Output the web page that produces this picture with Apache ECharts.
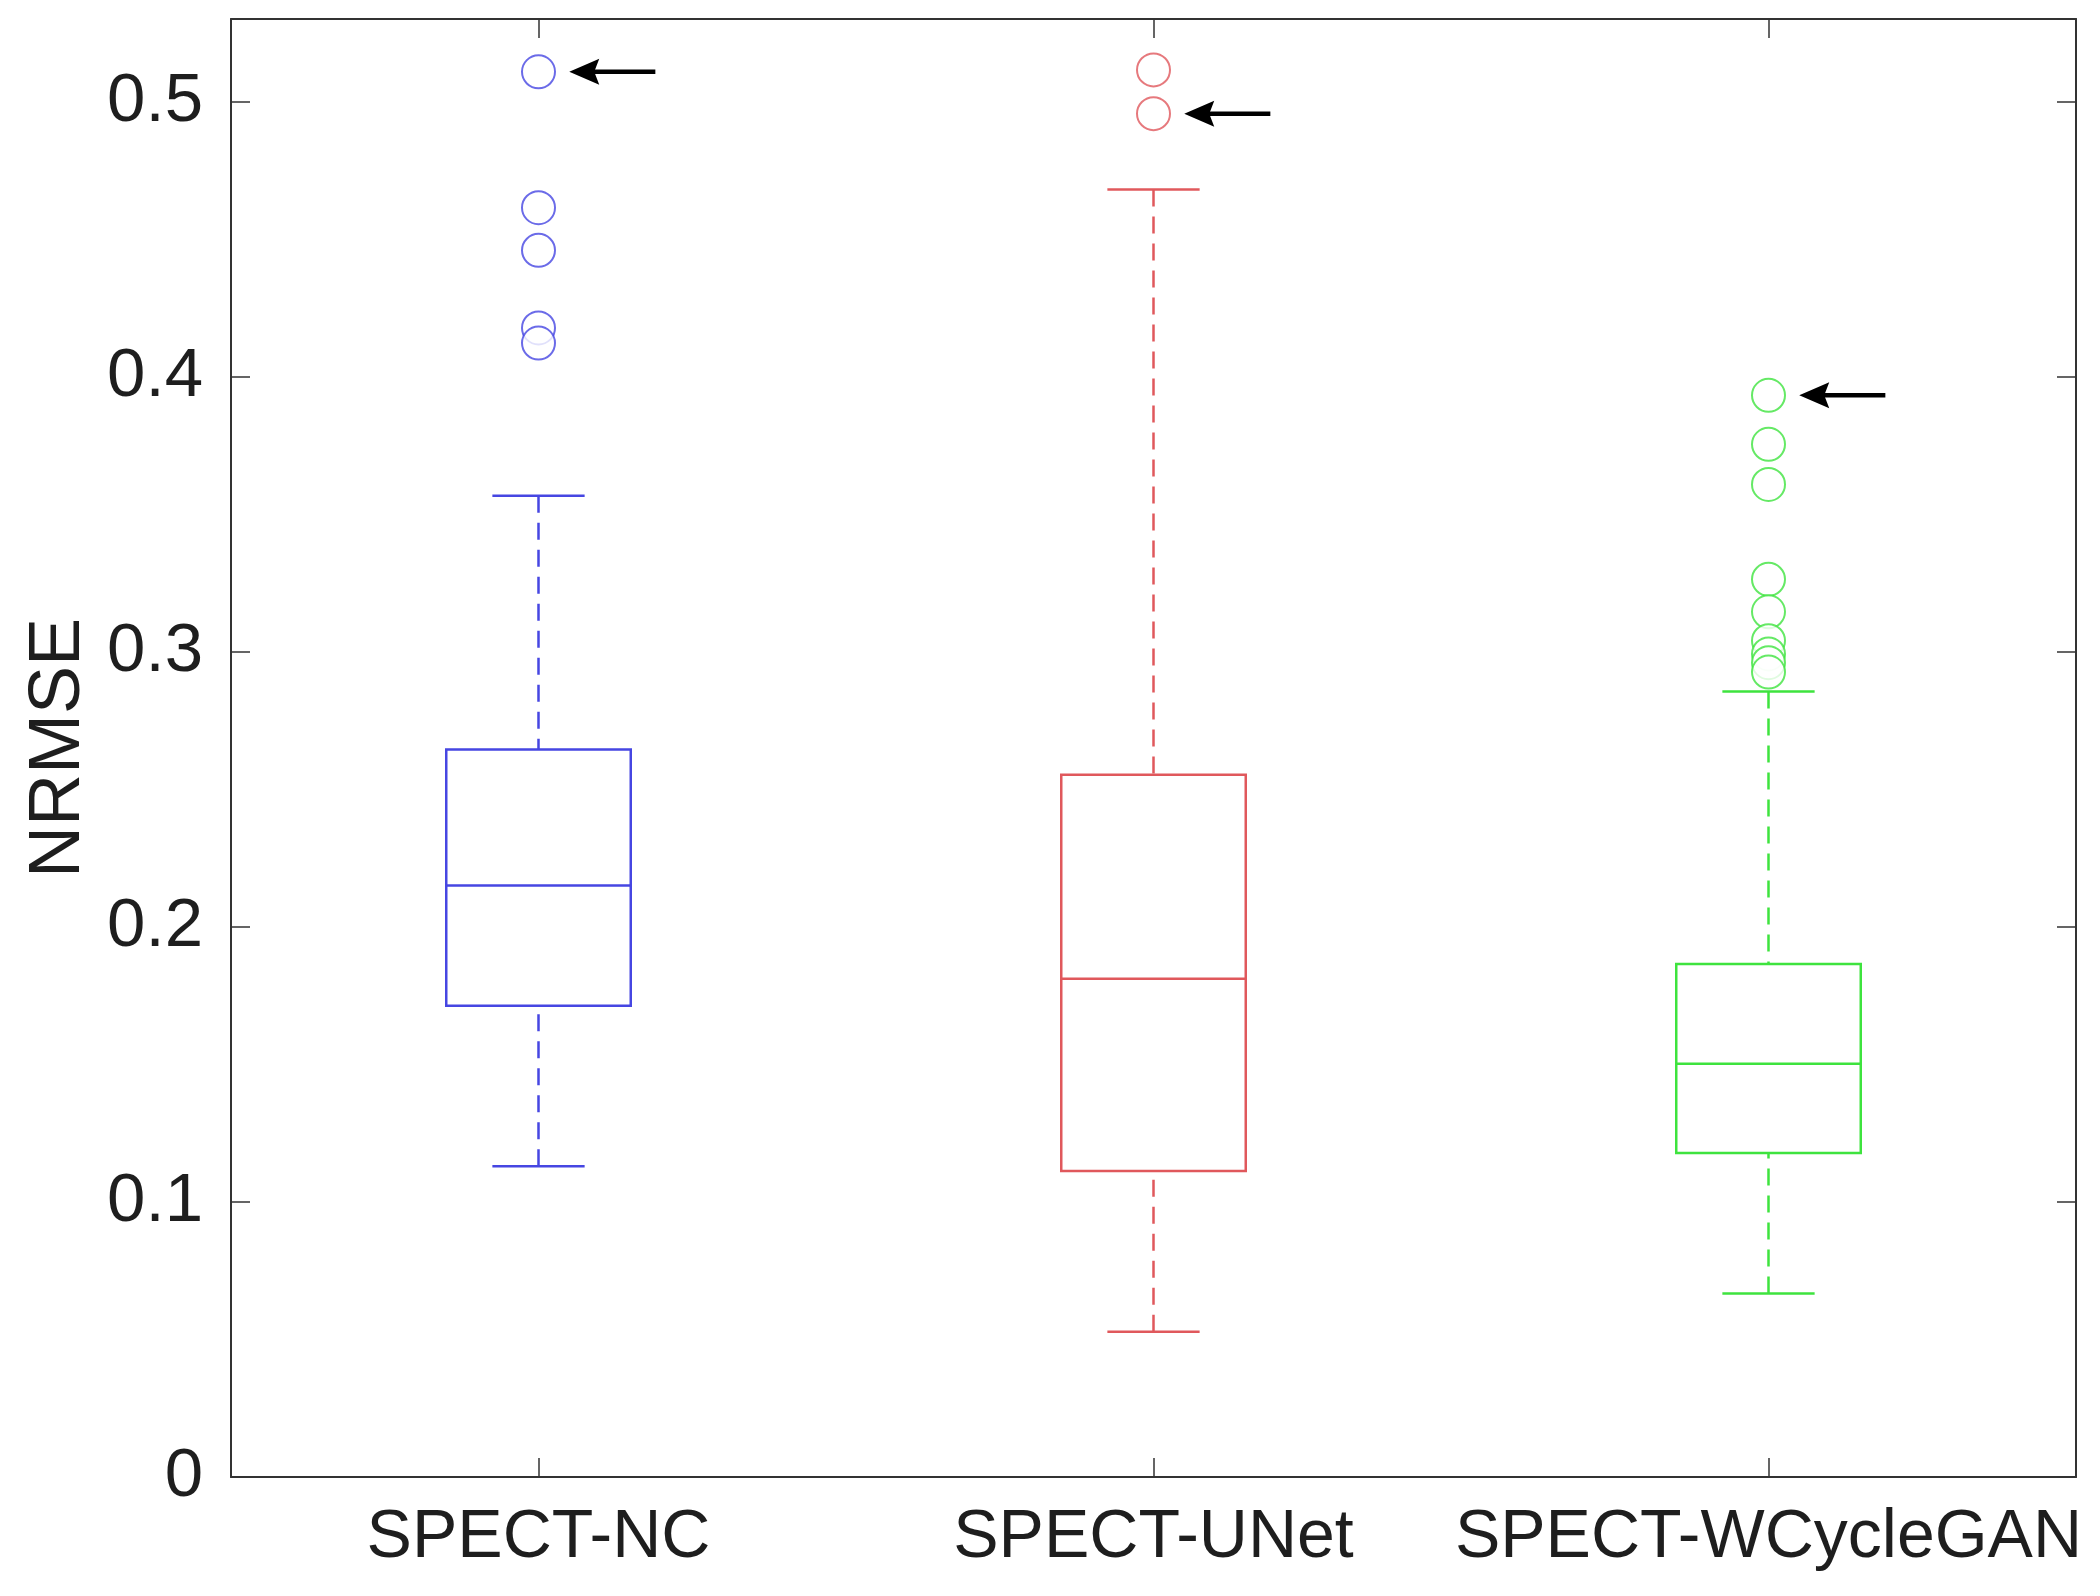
<!DOCTYPE html>
<html>
<head>
<meta charset="utf-8">
<script src="https://cdn.jsdelivr.net/npm/echarts@6/dist/echarts.min.js"></script>
<style>
html,body{margin:0;padding:0;background:#fff;}
#chart{width:2100px;height:1596px;}
</style>
</head>
<body>
<div id="chart"></div>
<script>
// ---- data ----
const categories = ['SPECT-NC', 'SPECT-UNet', 'SPECT-WCycleGAN'];
// [lower whisker, Q1, median, Q3, upper whisker]
const boxNC = [0.1130, 0.1713, 0.2150, 0.2645, 0.3567];
const boxUNet = [0.0528, 0.1112, 0.1811, 0.2553, 0.4680];
const boxWCycleGAN = [0.0667, 0.1178, 0.1502, 0.1865, 0.2855];
const outliersNC = [0.5108, 0.4614, 0.4459, 0.4177, 0.4122];
const outliersUNet = [0.5115, 0.4956];
const outliersWCycleGAN = [0.3932, 0.3754, 0.3608, 0.3263, 0.3145, 0.3040, 0.2992, 0.2960, 0.2926];
// outliers marked with arrows: [category index, value]
const arrowMarks = [[0, 0.5108], [1, 0.4956], [2, 0.3932]];
const yTicks = [0, 0.1, 0.2, 0.3, 0.4, 0.5];

const colors = ['#4646e2', '#e0585c', '#3ee33e'];
const boxes = [boxNC, boxUNet, boxWCycleGAN];
const outliers = [outliersNC, outliersUNet, outliersWCycleGAN];

const chart = echarts.init(document.getElementById('chart'), null, {renderer: 'canvas'});
const FONT = 'Liberation Sans, Arial, Helvetica, sans-serif';
const axisColor = '#333333';
const textColor = '#1e1e1e';

function boxRender(params, api) {
  const idx = api.value(0);
  const vals = [api.value(1), api.value(2), api.value(3), api.value(4), api.value(5)];
  const band = api.size([1, 0])[0];
  const halfBox = band * 0.15;
  const halfCap = band * 0.075;
  const p = vals.map(v => api.coord([idx, v]));
  const cx = p[0][0];
  const col = colors[idx];
  const solid = {stroke: col, lineWidth: 2.5, fill: null};
  const dashed = {stroke: col, lineWidth: 2.5, lineDash: [17, 10], fill: null};
  return {
    type: 'group',
    children: [
      {type: 'rect', shape: {x: cx - halfBox, y: p[3][1], width: 2 * halfBox, height: p[1][1] - p[3][1]}, style: solid},
      {type: 'line', shape: {x1: cx - halfBox, y1: p[2][1], x2: cx + halfBox, y2: p[2][1]}, style: solid},
      {type: 'line', shape: {x1: cx, y1: p[4][1], x2: cx, y2: p[3][1]}, style: dashed},
      {type: 'line', shape: {x1: cx, y1: p[0][1], x2: cx, y2: p[1][1]}, style: dashed},
      {type: 'line', shape: {x1: cx - halfCap, y1: p[4][1], x2: cx + halfCap, y2: p[4][1]}, style: solid},
      {type: 'line', shape: {x1: cx - halfCap, y1: p[0][1], x2: cx + halfCap, y2: p[0][1]}, style: solid}
    ]
  };
}

function arrowRender(params, api) {
  const idx = api.value(0);
  const v = api.value(1);
  const band = api.size([1, 0])[0];
  const c = api.coord([idx, v]);
  const headX = c[0] + band * 0.05;
  const tailX = c[0] + band * 0.19;
  const headLen = 30, headHalf = 13;
  return {
    type: 'group',
    children: [
      {type: 'line', shape: {x1: headX + headLen - 6, y1: c[1], x2: tailX, y2: c[1]}, style: {stroke: '#000', lineWidth: 4.5}},
      {type: 'polygon', shape: {points: [[headX, c[1]], [headX + headLen, c[1] - headHalf], [headX + headLen - 5, c[1]], [headX + headLen, c[1] + headHalf]]}, style: {fill: '#000'}}
    ]
  };
}

const series = [
  {
    type: 'custom',
    renderItem: boxRender,
    xAxisIndex: 0, yAxisIndex: 0,
    data: boxes.map((b, i) => [i].concat(b)),
    encode: {x: 0, y: [1, 2, 3, 4, 5]},
    z: 3
  }
];
outliers.forEach((arr, i) => {
  series.push({
    type: 'scatter',
    xAxisIndex: 0, yAxisIndex: 0,
    symbol: 'emptyCircle',
    symbolSize: 33,
    itemStyle: {color: colors[i], borderColor: colors[i], borderWidth: 2},
    data: arr.map(v => [categories[i], v]),
    z: 4
  });
});
series.push({
  type: 'custom',
  renderItem: arrowRender,
  xAxisIndex: 0, yAxisIndex: 0,
  data: arrowMarks,
  encode: {x: 0, y: 1},
  z: 5
});

const option = {
  backgroundColor: '#ffffff',
  animation: false,
  grid: {left: 231, right: 24, top: 19, bottom: 119, containLabel: false},
  xAxis: [
    {
      type: 'category', data: categories, position: 'bottom',
      boundaryGap: true,
      axisLine: {show: true, lineStyle: {color: axisColor, width: 2}},
      axisTick: {show: true, inside: true, alignWithLabel: true, length: 19, lineStyle: {color: axisColor, width: 1.5}},
      axisLabel: {show: true, margin: 27, color: textColor, fontSize: 68, fontFamily: FONT, interval: 0},
      splitLine: {show: false}
    },
    {
      type: 'category', data: categories, position: 'top',
      boundaryGap: true,
      axisLine: {show: true, onZero: false, lineStyle: {color: axisColor, width: 2}},
      axisTick: {show: true, inside: true, alignWithLabel: true, length: 19, lineStyle: {color: axisColor, width: 1.5}},
      axisLabel: {show: false},
      splitLine: {show: false}
    }
  ],
  yAxis: [
    {
      type: 'value', min: 0, max: 0.53, interval: 0.1, position: 'left',
      name: 'NRMSE', nameLocation: 'middle', nameRotate: 90, nameGap: 136,
      nameTextStyle: {fontSize: 72, color: textColor, fontFamily: FONT},
      axisLine: {show: true, lineStyle: {color: axisColor, width: 2}},
      axisTick: {show: true, inside: true, length: 19, lineStyle: {color: axisColor, width: 1.5}},
      axisLabel: {show: true, margin: 28, color: textColor, fontSize: 69, fontFamily: FONT, showMaxLabel: false,
        formatter: v => (yTicks.some(t => Math.abs(t - v) < 1e-9) ? String(+v.toFixed(1)) : '')},
      splitLine: {show: false}
    },
    {
      type: 'value', min: 0, max: 0.53, interval: 0.1, position: 'right',
      axisLine: {show: true, onZero: false, lineStyle: {color: axisColor, width: 2}},
      axisTick: {show: true, inside: true, length: 19, lineStyle: {color: axisColor, width: 1.5}},
      axisLabel: {show: false},
      splitLine: {show: false}
    }
  ],
  series: series
};
chart.setOption(option);
</script>
</body>
</html>
